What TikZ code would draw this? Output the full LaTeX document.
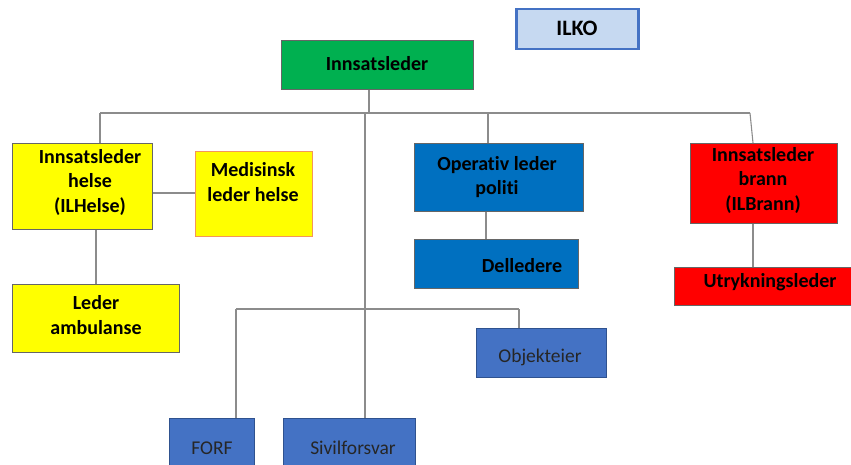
\documentclass[tikz,border=0pt]{standalone}
\usepackage{fontspec}
\setmainfont{Carlito}[Ligatures=NoCommon]
\begin{document}
\begin{tikzpicture}[x=1pt,y=-1pt,
  box/.style={draw=gray!80!black, line width=0.8pt, inner sep=0pt, anchor=north west},
  bt/.style={font=\fontsize{20}{24.5}\selectfont\bfseries, align=center, inner sep=0pt},
  rt/.style={font=\fontsize{19.5}{23}\selectfont, text=black!85, inner sep=0pt},
  link/.style={draw=gray!90, line width=1.1pt}]
\definecolor{ilkofill}{RGB}{198,217,241}
\definecolor{ilkoline}{RGB}{68,114,196}
\definecolor{lgreen}{RGB}{0,176,80}
\definecolor{lyellow}{RGB}{255,255,0}
\definecolor{lorange}{RGB}{244,150,90}
\definecolor{lblue}{RGB}{0,112,192}
\definecolor{mblue}{RGB}{68,114,196}
\definecolor{dblue}{RGB}{47,82,143}
\definecolor{lred}{RGB}{255,0,0}
\useasboundingbox (0,0) rectangle (851,465);

% boxes
\node[box, draw=ilkoline, line width=2.5pt, fill=ilkofill, minimum width=122pt, minimum height=40pt] (ilko) at (515,8) {};
\node[box, fill=lgreen, minimum width=192pt, minimum height=49pt] (inn) at (281,40) {};
\node[box, fill=lyellow, minimum width=140pt, minimum height=86pt] (helse) at (12,143) {};
\node[box, draw=lorange, fill=lyellow, minimum width=117pt, minimum height=85pt] (med) at (195,151) {};
\node[box, fill=lyellow, minimum width=167pt, minimum height=68pt] (amb) at (12,284) {};
\node[box, fill=lblue, minimum width=169pt, minimum height=68pt] (pol) at (414,143) {};
\node[box, fill=lblue, minimum width=164pt, minimum height=49pt] (del) at (414,239) {};
\node[box, fill=lred, minimum width=147pt, minimum height=80pt] (brann) at (690,143) {};
\node[box, fill=lred, minimum width=177pt, minimum height=38pt] (utr) at (674,267) {};
\node[box, draw=dblue, fill=mblue, minimum width=130pt, minimum height=49pt] (obj) at (476,328) {};
\node[box, draw=dblue, fill=mblue, minimum width=85pt, minimum height=52pt] (forf) at (169,418) {};
\node[box, draw=dblue, fill=mblue, minimum width=132pt, minimum height=52pt] (siv) at (283,418) {};

% labels
\node[bt, font=\fontsize{22}{26}\selectfont\bfseries] (ilko-t) at (577,28) {ILKO};
\node[bt] (inn-t) at (377,64) {Innsatsleder};
\node[bt] (helse-t) at (90,182) {Innsatsleder\\helse\\(ILHelse)};
\node[bt] (med-t) at (253,182) {Medisinsk\\leder helse};
\node[bt] (amb-t) at (96,315) {Leder\\ambulanse};
\node[bt] (pol-t) at (497,177) {Operativ leder\\politi};
\node[bt] (del-t) at (522,266) {Delledere};
\node[bt] (brann-t) at (763,180) {Innsatsleder\\brann\\(ILBrann)};
\node[bt] (utr-t) at (770,282) {Utrykningsleder};
\node[rt] (obj-t) at (540,357) {Objekteier};
\node[rt] (forf-t) at (212,448) {FORF};
\node[rt] (siv-t) at (353,448) {Sivilforsvar};

% connectors
\coordinate (hl) at (100,113);
\coordinate (hr) at (750,113);
\coordinate (hp) at (488,113);
\coordinate (hs) at (365,113);
\coordinate (ll) at (236,309);
\coordinate (lr) at (519,309);
\draw[link] (inn.south -| 369,0) -- (369,113);
\draw[link] (hl) -- (hr);
\draw[link] (hl) -- (hl |- helse.north);
\draw[link] (hp) -- (hp |- pol.north);
\draw[link] (hr) -- (753,143);
\draw[link] (hs) -- (hs |- siv.north);
\draw[link] (ll) -- (lr);
\draw[link] (ll) -- (ll |- forf.north);
\draw[link] (lr) -- (lr |- obj.north);
\draw[link] (helse.east |- 0,193) -- (med.west |- 0,193);
\draw[link] (helse.south -| 96,0) -- (amb.north -| 96,0);
\draw[link] (pol.south -| 486,0) -- (del.north -| 486,0);
\draw[link] (brann.south -| 753,0) -- (utr.north -| 753,0);
\end{tikzpicture}
\end{document}
